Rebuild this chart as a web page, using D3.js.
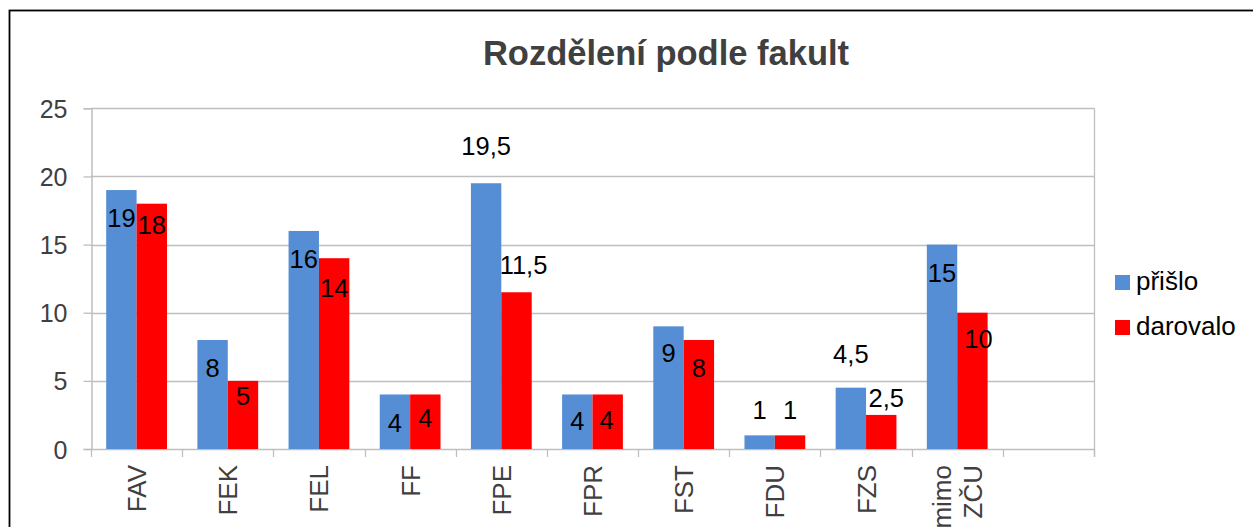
<!DOCTYPE html>
<html>
<head>
<meta charset="utf-8">
<script src="https://cdn.jsdelivr.net/npm/d3@7"></script>
<style>
  html, body { margin: 0; padding: 0; background: #fff; }
  svg { display: block; }
  text { font-family: "Liberation Sans", Arial, sans-serif; }
</style>
</head>
<body>
<svg id="chart" width="1253" height="527"></svg>
<script>
// ---- data ----
const title = "Rozdělení podle fakult";
const categories = ["FAV", "FEK", "FEL", "FF", "FPE", "FPR", "FST", "FDU", "FZS", "mimo ZČU", ""];
const seriesNames = ["přišlo", "darovalo"];
const prislo   = [19, 8, 16, 4, 19.5, 4, 9, 1, 4.5, 15];
const darovalo = [18, 5, 14, 4, 11.5, 4, 8, 1, 2.5, 10];
const yTicks = [0, 5, 10, 15, 20, 25];

// ---- layout (label nudges, px; not data) ----
const labelDy = [
  [37, 37, 37, 38, -28, 36, 36, -16, -25, 37],
  [30, 24, 39, 33, -18, 35, 37, -16, -8, 35]
];
const labelDx = [
  [0, 0, 0, 0, 0, 0, 0, 0, 0, 0],
  [0, 0, 0, 0, 7, -1, 0, 0, 5, 6]
];
const colors = ["#558ed5", "#ff0000"];

const svg = d3.select("#chart");
const plot = { left: 91, right: 1094, top: 108.3, bottom: 449 };

// outer chart border (extends beyond the captured area)
svg.append("rect")
  .attr("x", 9.5).attr("y", 10.5)
  .attr("width", 1300).attr("height", 600)
  .attr("fill", "none").attr("stroke", "#000").attr("stroke-width", 1.8);

const x = d3.scaleBand().domain(d3.range(categories.length))
  .range([plot.left, plot.right]).paddingInner(0).paddingOuter(0);
const y = d3.scaleLinear().domain([0, 25]).range([plot.bottom, plot.top]);
const xs = d3.scaleBand().domain(d3.range(seriesNames.length))
  .range([0, x.bandwidth()]).paddingInner(0).paddingOuter(0.5);

// title
svg.append("text")
  .attr("x", 666).attr("y", 65)
  .attr("text-anchor", "middle")
  .attr("font-size", 34.5).attr("font-weight", "bold")
  .attr("fill", "#404040")
  .text(title);

// gridlines
svg.append("g").selectAll("line").data(yTicks.filter(d => d > 0)).join("line")
  .attr("x1", plot.left).attr("x2", plot.right)
  .attr("y1", d => Math.round(y(d)) + 0.5).attr("y2", d => Math.round(y(d)) + 0.5)
  .attr("stroke", "#bfbfbf").attr("stroke-width", 1.3);

// right border of plot area
svg.append("line")
  .attr("x1", plot.right + 0.5).attr("x2", plot.right + 0.5)
  .attr("y1", plot.top).attr("y2", plot.bottom + 8)
  .attr("stroke", "#bfbfbf").attr("stroke-width", 1.3);

// y axis
const yAxis = d3.axisLeft(y).tickValues(yTicks).tickSize(8).tickPadding(16)
  .tickFormat(d3.format("d"));
const gy = svg.append("g").attr("transform", `translate(${plot.left + 0.5},0)`).call(yAxis);
gy.select(".domain").attr("stroke", "#bfbfbf").attr("stroke-width", 1.5);
gy.selectAll(".tick line").attr("stroke", "#bfbfbf").attr("stroke-width", 1.3);
gy.selectAll(".tick text").attr("font-size", 25).attr("fill", "#404040")
  .attr("font-family", "Liberation Sans, Arial, sans-serif").attr("dy", "0.36em");

// x axis (ticks between categories)
const gx = svg.append("g").attr("transform", `translate(0,${plot.bottom})`);
gx.append("line").attr("x1", plot.left).attr("x2", plot.right)
  .attr("y1", 0.5).attr("y2", 0.5).attr("stroke", "#bfbfbf").attr("stroke-width", 1.5);
gx.selectAll("line.tk").data(d3.range(categories.length + 1)).join("line")
  .attr("class", "tk")
  .attr("x1", i => Math.round(plot.left + i * x.step()) + 0.5)
  .attr("x2", i => Math.round(plot.left + i * x.step()) + 0.5)
  .attr("y1", 0).attr("y2", 8)
  .attr("stroke", "#bfbfbf").attr("stroke-width", 1.3);

// category labels, rotated
categories.forEach((c, i) => {
  if (!c) return;
  const lines = c.split(" ");
  const cx = x(i) + x.bandwidth() / 2;
  const lh = 31;
  const t = gx.append("text")
    .attr("transform", `translate(${cx},16) rotate(-90)`)
    .attr("text-anchor", "end")
    .attr("font-size", 26).attr("fill", "#404040");
  lines.forEach((ln, k) => {
    const off = (k - (lines.length - 1) / 2) * lh + 9.5;
    t.append("tspan").attr("x", 0).attr("y", off).text(ln);
  });
});

// bars
const series = [prislo, darovalo];
series.forEach((vals, s) => {
  svg.append("g").selectAll("rect").data(vals).join("rect")
    .attr("x", (d, i) => x(i) + xs(s))
    .attr("y", d => y(d))
    .attr("width", xs.bandwidth())
    .attr("height", d => y(0) - y(d))
    .attr("fill", colors[s]);
});

// data labels
const fmt = v => String(v).replace(".", ",");
series.forEach((vals, s) => {
  svg.append("g").selectAll("text").data(vals).join("text")
    .attr("x", (d, i) => x(i) + xs(s) + xs.bandwidth() / 2 + labelDx[s][i])
    .attr("y", (d, i) => y(d) + labelDy[s][i])
    .attr("text-anchor", "middle")
    .attr("font-size", 25.5).attr("fill", "#000")
    .text(d => fmt(d));
});

// legend
const lg = svg.append("g").attr("transform", "translate(1115,275)");
seriesNames.forEach((n, s) => {
  lg.append("rect").attr("x", 0).attr("y", s * 45).attr("width", 15).attr("height", 15)
    .attr("fill", colors[s]);
  lg.append("text").attr("x", 21).attr("y", s * 45 + 15)
    .attr("font-size", 26).attr("fill", "#000").text(n);
});
</script>
</body>
</html>
